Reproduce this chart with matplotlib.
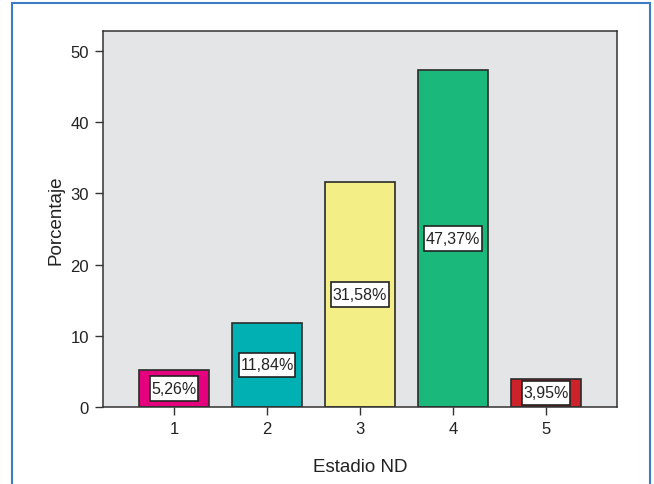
import matplotlib.pyplot as plt
from matplotlib.patches import Rectangle
from matplotlib.path import Path

estadios = [1, 2, 3, 4, 5]
porcentajes = [5.26, 11.84, 31.58, 47.37, 3.95]
etiquetas = ['5,26%', '11,84%', '31,58%', '47,37%', '3,95%']
colores = ['#e5007d', '#00b0b3', '#f3ee86', '#1ab87a', '#cc2229']

plt.rcParams['font.family'] = 'Liberation Sans'


def caja(x0, y0, width, height, mutation_size):
    # recuadro con más margen vertical que horizontal
    px, py = 0.1 * mutation_size, 0.3 * mutation_size
    x0, y0 = x0 - px, y0 - py
    x1, y1 = x0 + width + 2 * px, y0 + height + 2 * py
    return Path([(x0, y0), (x1, y0), (x1, y1), (x0, y1), (x0, y0)],
                closed=True)


fig = plt.figure(figsize=(6.54, 4.85), dpi=100)
ax = fig.add_axes([0.1575, 0.1588, 0.7859, 0.7752])

# marco azul alrededor de toda la figura
fig.patches.append(Rectangle((12 / 654, -0.01), 638 / 654, 1 - 4 / 485 + 0.01,
                             transform=fig.transFigure, fill=False,
                             edgecolor='#3b7cc4', linewidth=1.5))

ax.set_facecolor('#e4e5e7')
ax.bar(estadios, porcentajes, width=0.75, color=colores,
       edgecolor='#2b2b2b', linewidth=1.2, zorder=2)

for x, v, t in zip(estadios, porcentajes, etiquetas):
    ax.text(x, v / 2, t, ha='center', va='center', fontsize=11.5, color='#222222',
            zorder=3, bbox=dict(boxstyle=caja, facecolor='white',
                                edgecolor='#222222', linewidth=1.2))

ax.set_xlim(0.237, 5.763)
ax.set_ylim(0, 52.8)
ax.set_xticks(estadios)
ax.set_yticks([0, 10, 20, 30, 40, 50])
ax.tick_params(labelsize=12, colors='#333333', labelcolor='#222222',
               length=6, width=1, pad=4)
ax.set_xlabel('Estadio ND', fontsize=13.5, color='#222222', labelpad=16)
ax.set_ylabel('Porcentaje', fontsize=13.5, color='#222222', labelpad=4)
for s in ax.spines.values():
    s.set_color('#333333')
    s.set_linewidth(1.1)

fig.savefig('out.png', dpi=100)
